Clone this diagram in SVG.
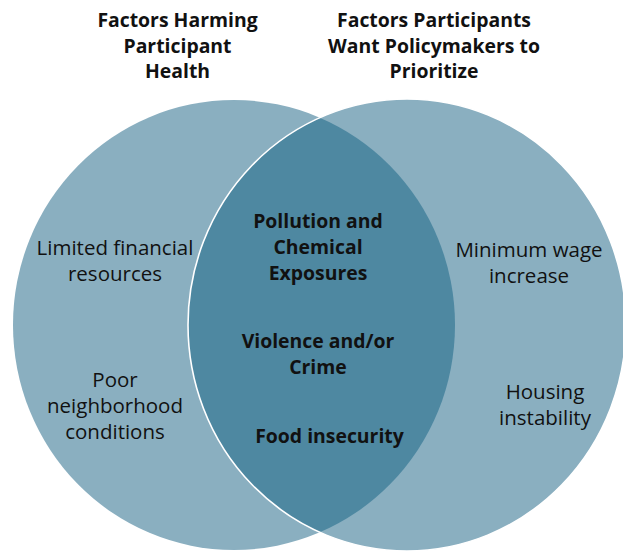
<svg xmlns="http://www.w3.org/2000/svg" width="623" height="551" viewBox="0 0 623 551">
  <style>
    .circ { fill: #8AAFC0; }
    .lens { fill: #4E88A1; }
    .edge { fill: none; stroke: #FFFFFF; stroke-width: 1.6; }
    .t { font-family: "Open Sans", "Liberation Sans", Arial, sans-serif; fill: #111111; text-anchor: middle; }
    .b { font-weight: bold; font-size: 19.4px; }
    .r { font-size: 20.5px; }
  </style>
  <defs>
    <clipPath id="clipLeft">
      <ellipse cx="234" cy="325" rx="221" ry="225"/>
    </clipPath>
  </defs>
  <g id="circle-left">
    <ellipse class="circ" cx="234" cy="325" rx="221" ry="225"/>
  </g>
  <g id="circle-right">
    <ellipse class="circ" cx="407" cy="325" rx="219" ry="226"/>
  </g>
  <g id="overlap">
    <ellipse class="lens" cx="407" cy="325" rx="219" ry="226" clip-path="url(#clipLeft)"/>
    <ellipse class="edge" cx="407" cy="325" rx="219" ry="226"/>
  </g>
  <g id="title-left">
    <text class="t b" x="177.5" y="26.5">Factors Harming</text>
    <text class="t b" x="177.5" y="52.5">Participant</text>
    <text class="t b" x="177.5" y="78">Health</text>
  </g>
  <g id="title-right">
    <text class="t b" x="434" y="26.5">Factors Participants</text>
    <text class="t b" x="434" y="52.5">Want Policymakers to</text>
    <text class="t b" x="434" y="78">Prioritize</text>
  </g>
  <g id="left-items">
    <text class="t r" x="115" y="255">Limited financial</text>
    <text class="t r" x="115" y="281">resources</text>
    <text class="t r" x="115" y="386.5">Poor</text>
    <text class="t r" x="115" y="412.5">neighborhood</text>
    <text class="t r" x="115" y="438.5">conditions</text>
  </g>
  <g id="shared-items">
    <text class="t b" x="318" y="228">Pollution and</text>
    <text class="t b" x="318" y="254">Chemical</text>
    <text class="t b" x="318" y="280">Exposures</text>
    <text class="t b" x="318" y="348">Violence and/or</text>
    <text class="t b" x="318" y="374">Crime</text>
    <text class="t b" x="329.5" y="443">Food insecurity</text>
  </g>
  <g id="right-items">
    <text class="t r" x="529" y="257">Minimum wage</text>
    <text class="t r" x="529" y="283">increase</text>
    <text class="t r" x="545" y="399">Housing</text>
    <text class="t r" x="545" y="425">instability</text>
  </g>
</svg>
